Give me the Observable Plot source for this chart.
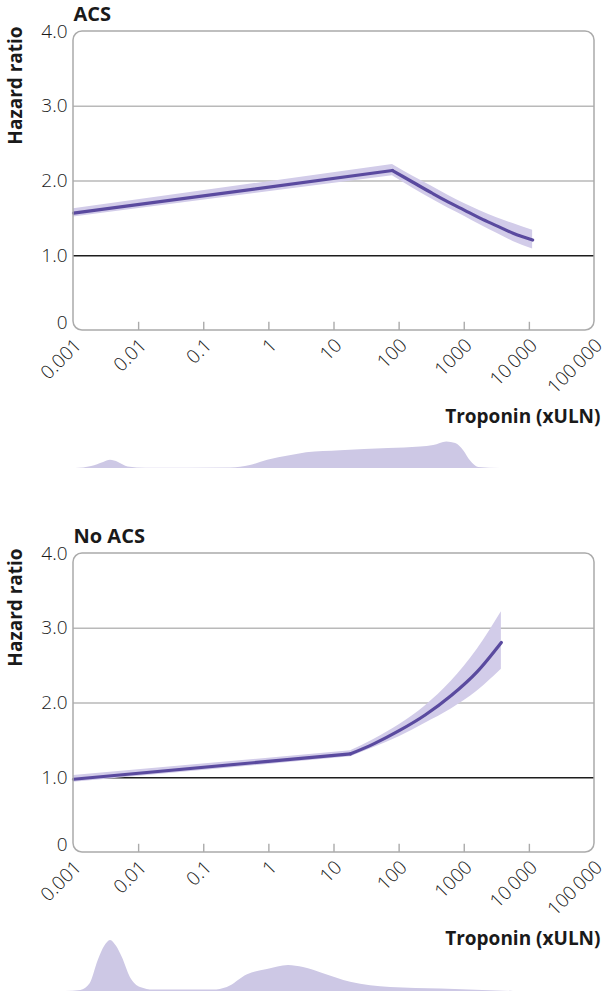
<!DOCTYPE html>
<html><head><meta charset="utf-8">
<script src="https://cdn.jsdelivr.net/npm/d3@7"></script>
<script src="https://cdn.jsdelivr.net/npm/@observablehq/plot@0.6"></script>
<style>
body{margin:0;background:#fff;}
#wrap{position:relative;width:608px;height:991px;overflow:hidden;}
#wrap svg{position:absolute;left:0;}
</style></head><body><div id="wrap"></div>
<script>
// ---- labels ----
const xTicks = [0.001, 0.01, 0.1, 1, 10, 100, 1000, 10000, 100000];
const xTickLabels = ["0.001", "0.01", "0.1", "1", "10", "100", "1000", "10\u2009000", "100\u2009000"];
const yTicks = [0, 1, 2, 3, 4];
const yTickLabels = ["0", "1.0", "2.0", "3.0", "4.0"];
const panelTitles = ["ACS", "No ACS"];
const yLabel = "Hazard ratio";
const xLabel = "Troponin (xULN)";

// ---- ACS panel: hazard ratio with 95% band (index 1 = knot) ----
const acsTroponin = [0.001, 79, 158, 316, 562, 1000, 1778, 3162, 5623, 11220];
const acsHR       = [1.57, 2.14, 1.99, 1.84, 1.72, 1.61, 1.50, 1.40, 1.30, 1.21];
const acsLow      = [1.52, 2.07, 1.91, 1.76, 1.64, 1.53, 1.41, 1.30, 1.19, 1.09];
const acsHigh     = [1.63, 2.22, 2.07, 1.93, 1.81, 1.70, 1.60, 1.51, 1.43, 1.34];

// ---- ACS panel: troponin distribution (relative density) ----
const acsDensTroponin = [0.00108, 0.0019, 0.0029, 0.0037, 0.0049, 0.0069, 0.013, 0.26, 0.52, 0.96, 2.1, 3.8, 12.6, 69, 213, 340, 540, 740, 980, 1260, 1660, 3630, 14800];
const acsDensity      = [0, 4, 12, 16, 12, 3, 0.6, 1, 6, 16, 25, 31, 35, 39, 42, 45, 52, 49, 35, 14, 2, 0, 0];

// ---- No ACS panel: hazard ratio with 95% band (index 1 = knot) ----
const noTroponin = [0.001, 18, 40, 100, 251, 631, 1585, 3715];
const noHR       = [0.98, 1.32, 1.45, 1.63, 1.84, 2.10, 2.42, 2.81];
const noLow      = [0.94, 1.28, 1.40, 1.55, 1.73, 1.92, 2.16, 2.45];
const noHigh     = [1.03, 1.36, 1.51, 1.71, 1.96, 2.29, 2.72, 3.22];

// ---- No ACS panel: troponin distribution (relative density) ----
const noDensTroponin = [0.00075, 0.0013, 0.0018, 0.0024, 0.003, 0.0037, 0.0046, 0.0056, 0.0075, 0.0107, 0.017, 0.14, 0.23, 0.47, 0.95, 2.0, 3.4, 6.9, 18, 74, 440, 5700];
const noDensity      = [0, 2, 15, 61, 88, 100, 88, 67, 27, 8, 3, 3, 8, 33, 43, 51, 47, 35, 18, 8, 5, 0];

// ---- style ----
const lineColor = "#5a4a9f";
const bandColor = "#d2cce9";
const densColor = "#cdc8e5";
const frameColor = "#ababab";
const gridColor = "#b9b9b9";
const textColor = "#1a1a1a";
const font = "'Open Sans', 'Noto Sans', sans-serif";

const wrap = document.getElementById("wrap");

function panel(title, tro, hr, lo, hi, top) {
  const data = tro.map((t, i) => ({t, hr: hr[i], lo: lo[i], hi: hi[i]}));
  const left = data.slice(0, 2);   // linear segment up to the knot
  const right = data.slice(1);     // curved segment after the knot
  const xt = xTicks.map((v, i) => ({v, label: xTickLabels[i]}));
  const yt = yTicks.map((v, i) => ({v, label: yTickLabels[i]}));
  const svg = Plot.plot({
    width: 608, height: 440,
    marginTop: 31, marginBottom: 110, marginLeft: 73, marginRight: 14,
    x: {type: "log", domain: [0.001, 100000], axis: null},
    y: {domain: [0, 4], axis: null},
    style: {fontFamily: font, background: "transparent", overflow: "visible"},
    marks: [
      Plot.ruleY([2, 3], {stroke: gridColor, strokeWidth: 1.3}),
      Plot.ruleY([1], {stroke: "#1d1d1d", strokeWidth: 1.4}),
      Plot.areaY(left, {x: "t", y1: "lo", y2: "hi", fill: bandColor}),
      Plot.areaY(right, {x: "t", y1: "lo", y2: "hi", fill: bandColor, curve: "monotone-x"}),
      Plot.line(left, {x: "t", y: "hr", stroke: lineColor, strokeWidth: 3.2}),
      Plot.line(right, {x: "t", y: "hr", stroke: lineColor, strokeWidth: 3.2, curve: "monotone-x"}),
      Plot.rect([{}], {x1: xTicks[0], x2: xTicks[xTicks.length - 1], y1: yTicks[0], y2: yTicks[yTicks.length - 1], rx: 9, fill: "none", stroke: frameColor, strokeWidth: 1.5}),
      Plot.ruleX(xTicks.slice(1, -1), {y1: 0, y2: 0.11, stroke: frameColor, strokeWidth: 1.4}),
      Plot.text(xt, {x: "v", y: () => 0, text: "label", rotate: -45, textAnchor: "end", lineAnchor: "bottom", dx: 9, dy: 16, fontSize: 19, fontWeight: 300, fill: textColor}),
      Plot.text(yt.slice(1), {x: () => 0.001, y: "v", text: "label", textAnchor: "end", dx: -6, fontSize: 19, fontWeight: 300, fill: textColor}),
      Plot.text(yt.slice(0, 1), {x: () => 0.001, y: "v", text: "label", textAnchor: "end", dx: -6, dy: -8, fontSize: 19, fontWeight: 300, fill: textColor}),
      Plot.text([title], {text: d => d, frameAnchor: "top-left", textAnchor: "start", lineAnchor: "bottom", dy: -11, fontSize: 20, fontWeight: "bold", fill: textColor}),
      Plot.text([yLabel], {text: d => d, frameAnchor: "top-left", rotate: -90, textAnchor: "middle", lineAnchor: "bottom", dx: -52, dy: 54, fontSize: 19, fontWeight: "bold", fill: textColor}),
      Plot.text([xLabel], {text: d => d, frameAnchor: "bottom-right", textAnchor: "end", lineAnchor: "bottom", dx: 6, dy: 92, fontSize: 19, fontWeight: "bold", fill: textColor})
    ]
  });
  svg.style.top = top + "px";
  wrap.appendChild(svg);
}

function density(tro, dens, top) {
  const data = tro.map((t, i) => ({t, d: dens[i]}));
  const svg = Plot.plot({
    width: 608, height: 60,
    marginTop: 9, marginBottom: 0, marginLeft: 73, marginRight: 14,
    x: {type: "log", domain: [0.001, 100000], axis: null},
    y: {domain: [0, 100], axis: null},
    style: {fontFamily: font, background: "transparent", overflow: "visible"},
    marks: [
      Plot.areaY(data, {x: "t", y: "d", fill: densColor, curve: "monotone-x"})
    ]
  });
  svg.style.top = top + "px";
  wrap.appendChild(svg);
}

panel(panelTitles[0], acsTroponin, acsHR, acsLow, acsHigh, 0);
density(acsDensTroponin, acsDensity, 408);
panel(panelTitles[1], noTroponin, noHR, noLow, noHigh, 522);
density(noDensTroponin, noDensity, 931);
</script></body></html>
